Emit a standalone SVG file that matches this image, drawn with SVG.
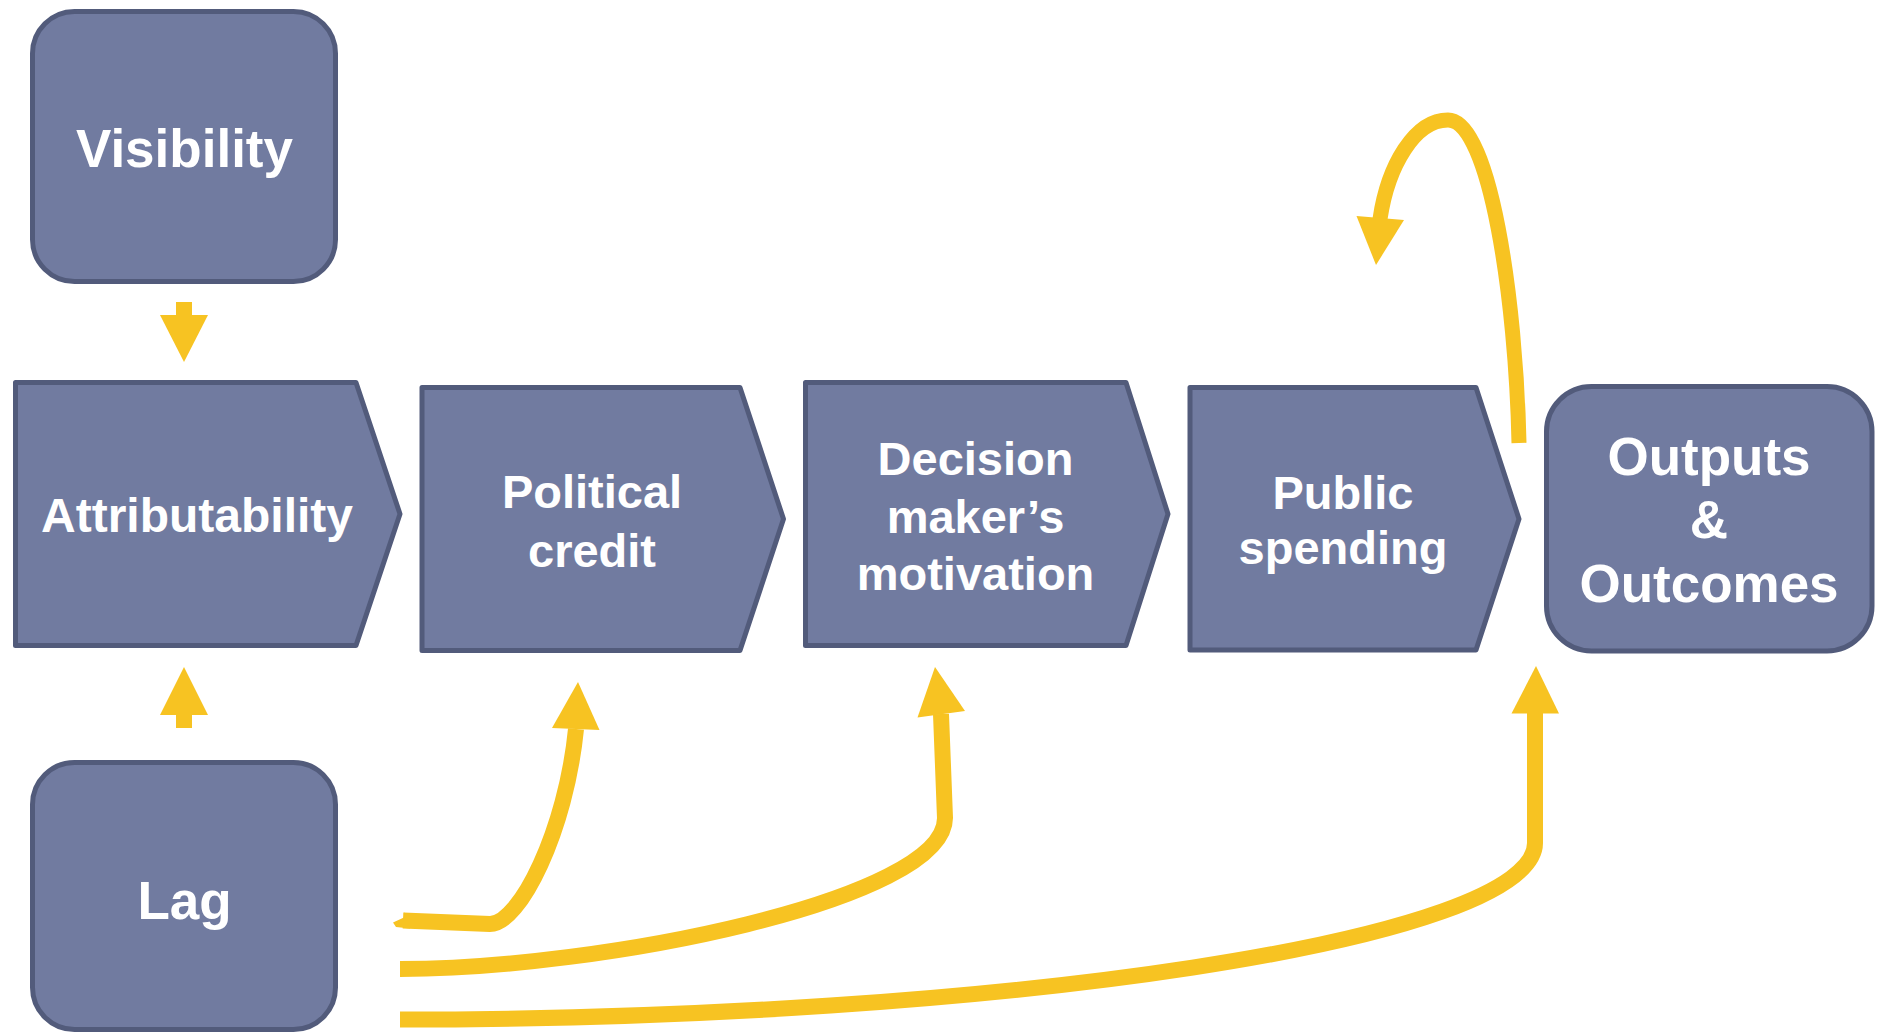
<svg xmlns="http://www.w3.org/2000/svg" width="1878" height="1034" viewBox="0 0 1878 1034">
<style>
.box{fill:#717BA0;stroke:#525B7B;stroke-width:5;stroke-linejoin:round}
.lbl{font-family:"Liberation Sans",Arial,sans-serif;font-weight:bold;fill:#FFFFFF;text-anchor:middle}
.f47{font-size:47px}
.f48{font-size:48px}
.f53{font-size:53px}
.line{fill:none;stroke:#F7C322;stroke-width:16;stroke-linecap:butt;stroke-linejoin:round}
.head{fill:#F7C322}
</style>
<rect width="1878" height="1034" fill="#FFFFFF"/>
<g id="connectors">
  <rect class="head" x="176" y="302" width="16" height="14"/>
  <polygon class="head" points="160,315 208,315 184,362"/>
  <rect class="head" x="176" y="714" width="16" height="14"/>
  <polygon class="head" points="160,715 208,715 184,667"/>
  <path class="line" d="M403,920.5 L490,924 C520,924 566,830 576,729"/>
  <polygon class="head" points="393,922.5 405,917 404,912.5 410,916 410,928.5 396,927"/>
  <polygon class="head" points="578,682 552,728 599.5,730"/>
  <path class="line" d="M400,969 C600,969 945,900 945,818 L941,714"/>
  <polygon class="head" points="935,667 917.5,717.5 965,711"/>
  <path class="line" d="M400,1019.5 C1000,1019.5 1535,940 1535,843 L1535,712"/>
  <polygon class="head" points="1536,666 1511.5,713.5 1559,713.5"/>
  <path class="line" style="stroke-width:15" d="M1519,443 C1516,300 1490,120 1448,120 C1415,120 1388,165 1380,219"/>
  <polygon class="head" points="1376,265 1356.5,216 1404,220"/>
</g>
<g id="visibility">
  <rect class="box" x="32.5" y="11.5" width="303" height="270" rx="42" ry="42"/>
  <text class="lbl f53" x="184.5" y="167">Visibility</text>
</g>
<g id="attributability">
  <polygon class="box" points="15.5,382.5 356,382.5 400,514 356,645.5 15.5,645.5"/>
  <text class="lbl f48" x="197" y="532">Attributability</text>
</g>
<g id="lag">
  <rect class="box" x="32.5" y="762.5" width="303" height="267" rx="42" ry="42"/>
  <text class="lbl f53" x="184.5" y="919">Lag</text>
</g>
<g id="political-credit">
  <polygon class="box" points="422,387.5 740,387.5 783.5,519 740,650.5 422,650.5"/>
  <text class="lbl f47" x="592" y="508">Political</text>
  <text class="lbl f47" x="592" y="566.5">credit</text>
</g>
<g id="decision-motivation">
  <polygon class="box" points="805.5,382.5 1126,382.5 1168,514 1126,645.5 805.5,645.5"/>
  <text class="lbl f47" x="975.5" y="475">Decision</text>
  <text class="lbl f47" x="975.5" y="532.5">maker’s</text>
  <text class="lbl f47" x="975.5" y="590">motivation</text>
</g>
<g id="public-spending">
  <polygon class="box" points="1190,387.5 1476,387.5 1519,519 1476,650 1190,650"/>
  <text class="lbl f47" x="1343" y="508.5">Public</text>
  <text class="lbl f47" x="1343" y="563.5">spending</text>
</g>
<g id="outputs-outcomes">
  <rect class="box" x="1546.5" y="386.5" width="325.5" height="264.5" rx="45" ry="45"/>
  <text class="lbl f53" x="1709" y="475">Outputs</text>
  <text class="lbl f53" x="1709" y="538">&amp;</text>
  <text class="lbl f53" x="1709" y="602">Outcomes</text>
</g>
</svg>
